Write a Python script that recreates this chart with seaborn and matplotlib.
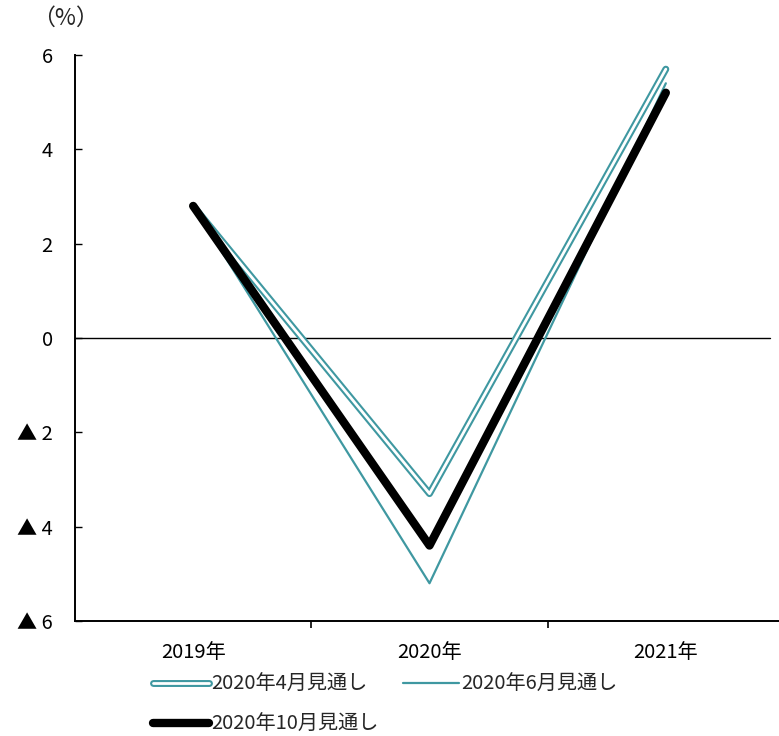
import matplotlib
matplotlib.use("Agg")
import matplotlib.pyplot as plt
import matplotlib.patheffects as pe
import numpy as np
import pandas as pd
import seaborn as sns

# Growth outlook by vintage (%)
years = ["2019年", "2020年", "2021年"]
apr_outlook = [2.8, -3.3, 5.7]
jun_outlook = [2.8, -5.2, 5.4]
oct_outlook = [2.8, -4.4, 5.2]
series_names = ["2020年4月見通し", "2020年6月見通し", "2020年10月見通し"]
y_ticks = [6, 4, 2, 0, -2, -4, -6]
y_tick_labels = ["6", "4", "2", "0", "▲ 2", "▲ 4", "▲ 6"]

sns.set_theme(style="white")
plt.rcParams["font.family"] = ["Noto Sans CJK JP", "DejaVu Sans"]

teal = "#3F98A1"
FS = 14.5

df = pd.DataFrame({
    "year": years * 3,
    "value": apr_outlook + jun_outlook + oct_outlook,
    "series": [series_names[0]] * 3 + [series_names[1]] * 3 + [series_names[2]] * 3,
})

fig = plt.figure(figsize=(7.79, 7.36), dpi=100)
W, H = 779, 736
ax = fig.add_axes([75 / W, 1 - 621 / H, (784 - 75) / W, (621 - 55) / H])

# zero line
ax.axhline(0, xmin=0, xmax=(770 - 75) / (784 - 75), color="black", lw=1.0, zorder=1)

# April outlook: hollow double line
sns.lineplot(data=df[df.series == series_names[0]], x="year", y="value", ax=ax,
             sort=False, color="white", lw=2.0, label=series_names[0],
             solid_capstyle="round", zorder=3,
             path_effects=[pe.Stroke(linewidth=5.0, foreground=teal, capstyle="round"),
                           pe.Normal()])
# June outlook: thin teal line
sns.lineplot(data=df[df.series == series_names[1]], x="year", y="value", ax=ax,
             sort=False, color=teal, lw=1.6, label=series_names[1],
             solid_capstyle="round", zorder=3)
# October outlook: thick black line
sns.lineplot(data=df[df.series == series_names[2]], x="year", y="value", ax=ax,
             sort=False, color="black", lw=6.0, label=series_names[2],
             solid_capstyle="round", zorder=4)

ax.set_xlim(-0.5, 2.5)
ax.set_ylim(-6, 6)
ax.set_xlabel("")
ax.set_ylabel("")

ax.set_yticks(y_ticks)
ax.set_yticklabels(y_tick_labels, fontsize=FS)
ax.tick_params(axis="y", direction="in", length=5, width=1.0, pad=16, color="black",
               labelcolor="black", left=True)

ax.set_xticks(range(len(years)))
ax.set_xticklabels(years, fontsize=FS)
ax.set_xticks([0.5, 1.5], minor=True)
ax.tick_params(axis="x", which="major", length=0, pad=15, labelcolor="black")
ax.tick_params(axis="x", which="minor", direction="out", length=5, width=1.2,
               color="black", bottom=True)

for side in ["top", "right"]:
    ax.spines[side].set_visible(False)
for side in ["left", "bottom"]:
    ax.spines[side].set_color("black")
    ax.spines[side].set_linewidth(1.4)

fig.text(65 / W, 1 - 18 / H, "（%）", fontsize=16.5, ha="center", va="center")

handles, labels = ax.get_legend_handles_labels()
ax.get_legend().remove()
order = [0, 2, 1]
fig.legend([handles[i] for i in order], [labels[i] for i in order],
           loc="upper left", bbox_to_anchor=(153 / W, 1 - 674 / H), ncol=2,
           frameon=False, fontsize=FS, handlelength=2.8, handletextpad=0.1,
           columnspacing=1.2, labelspacing=0.95, borderpad=0, borderaxespad=0)

fig.savefig("out.png", dpi=100)
